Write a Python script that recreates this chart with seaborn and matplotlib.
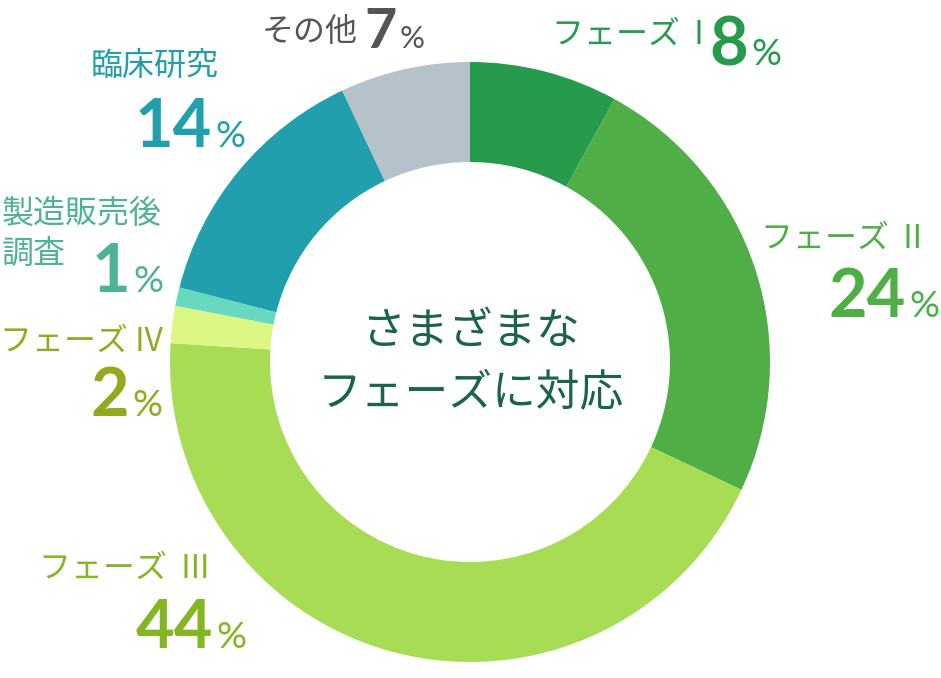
import matplotlib
matplotlib.use("Agg")
import matplotlib.pyplot as plt
import seaborn as sns

# data
phases = ["フェーズ  I", "フェーズ  II", "フェーズ  III", "フェーズ IV",
          "製造販売後\n調査", "臨床研究", "その他"]
shares = [8, 24, 44, 2, 1, 14, 7]
slice_colors = ["#259b4b", "#4fae45", "#a8dc55", "#dcf783",
                "#66d9bf", "#229fad", "#b5c2ca"]
text_colors = ["#259b4b", "#4fae45", "#84b523", "#95a91f",
               "#4db394", "#229fad", "#555555"]
center_text = ["さまざまな", "フェーズに対応"]

sns.set_theme(style="white")
plt.rcParams["font.family"] = ["Noto Sans CJK JP", "DejaVu Sans"]

W, H = 941, 678
fig = plt.figure(figsize=(W / 100, H / 100), dpi=100)
ax = fig.add_axes([0, 0, 1, 1])


def py(y):
    # pixel row -> data y
    return H - y


ax.pie(shares, colors=sns.color_palette(slice_colors), startangle=90,
       counterclock=False, radius=300, center=(470, py(362)),
       wedgeprops=dict(width=100, linewidth=0))
ax.set_xlim(0, W)
ax.set_ylim(0, H)
ax.set_aspect("equal")
ax.axis("off")

# label layout: (label left x, first line centre y, number right x, baseline y, number size)
layout = [
    (552, 35, 748, 65, 48),
    (761, 239, 906, 317, 48),
    (39, 569, 213, 648, 48),
    (0, 342, 129, 416, 48),
    (2, 214, 130, 292, 48),
    (91, 66, 212, 147, 48),
    (262, 32, 397, 48, 40),
]

for name, val, col, (lx, ly, nx, ny, ns) in zip(phases, shares, text_colors, layout):
    for i, line in enumerate(name.split("\n")):
        ax.text(lx, py(ly + i * 40), line, color=col, fontsize=23,
                ha="left", va="center")
    ax.text(nx, py(ny), str(val), color=col, fontsize=ns, family=["Lato"],
            fontweight="bold", ha="right", va="baseline")
    ax.text(nx + 3, py(ny), "%", color=col, fontsize=ns * 0.56, family=["Lato"],
            fontweight="normal", ha="left", va="baseline")

ax.text(470, py(331), center_text[0], color="#1a6447", fontsize=31.5,
        ha="center", va="center")
ax.text(471, py(393), center_text[1], color="#1a6447", fontsize=31.5,
        ha="center", va="center")

fig.savefig("out.png", dpi=100)
